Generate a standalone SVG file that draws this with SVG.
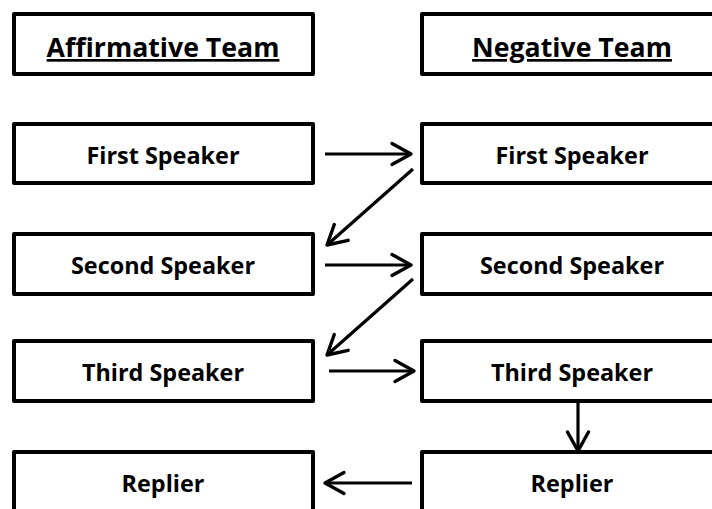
<svg xmlns="http://www.w3.org/2000/svg" width="712" height="509" viewBox="0 0 712 509">
<defs>
<style>
.box{fill:#fff;stroke:#000;stroke-width:4;stroke-linejoin:round}
.t{font-family:"Open Sans","Liberation Sans",sans-serif;font-weight:bold;font-size:23.4px;text-anchor:middle;fill:#000}
.h{font-size:26.7px;text-decoration:underline}
.c{stroke:#000;stroke-width:3.2;fill:none}
</style>
<marker id="ah" markerUnits="userSpaceOnUse" viewBox="-22 -13 26 26" refX="0" refY="0" markerWidth="26" markerHeight="26" orient="auto" overflow="visible">
<path d="M-19,-10.5 L0,0 L-19,10.5" fill="none" stroke="#000" stroke-width="3.4" stroke-linejoin="round" stroke-linecap="round"/>
</marker>
</defs>
<rect width="712" height="509" fill="#fff"/>
<g id="aff-team"><rect class="box" x="14" y="14" width="299" height="60"/><text class="t h" x="163" y="57">Affirmative Team</text></g>
<g id="neg-team"><rect class="box" x="422" y="14" width="300" height="60"/><text class="t h" x="572" y="57">Negative Team</text></g>
<g id="aff-first"><rect class="box" x="14" y="124" width="299" height="59"/><text class="t" x="163" y="164">First Speaker</text></g>
<g id="neg-first"><rect class="box" x="422" y="124" width="300" height="59"/><text class="t" x="572" y="164">First Speaker</text></g>
<g id="aff-second"><rect class="box" x="14" y="234" width="299" height="60"/><text class="t" x="163" y="274">Second Speaker</text></g>
<g id="neg-second"><rect class="box" x="422" y="234" width="300" height="60"/><text class="t" x="572" y="274">Second Speaker</text></g>
<g id="aff-third"><rect class="box" x="14" y="341" width="299" height="60"/><text class="t" x="163" y="381">Third Speaker</text></g>
<g id="neg-third"><rect class="box" x="422" y="341" width="300" height="60"/><text class="t" x="572" y="381">Third Speaker</text></g>
<g id="aff-replier"><rect class="box" x="14" y="452" width="299" height="62"/><text class="t" x="163" y="492">Replier</text></g>
<g id="neg-replier"><rect class="box" x="422" y="452" width="300" height="62"/><text class="t" x="572" y="492">Replier</text></g>
<g id="connectors">
<line class="c" x1="325" y1="154" x2="411" y2="154" marker-end="url(#ah)"/>
<line class="c" x1="413" y1="169" x2="327" y2="245" marker-end="url(#ah)"/>
<line class="c" x1="325" y1="265" x2="411" y2="265" marker-end="url(#ah)"/>
<line class="c" x1="413" y1="279" x2="327" y2="355" marker-end="url(#ah)"/>
<line class="c" x1="329" y1="371" x2="414" y2="371" marker-end="url(#ah)"/>
<line class="c" x1="578" y1="401" x2="578" y2="451" marker-end="url(#ah)"/>
<line class="c" x1="412" y1="483" x2="325" y2="483" marker-end="url(#ah)"/>
</g>
</svg>
